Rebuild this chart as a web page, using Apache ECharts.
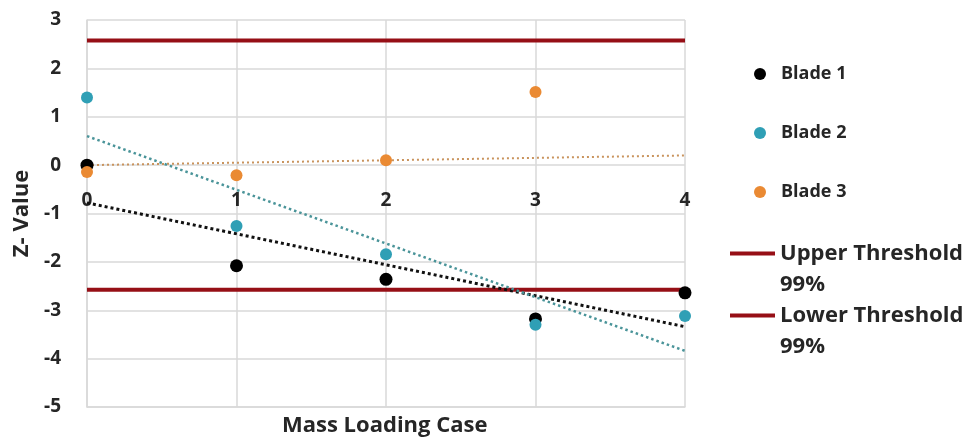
<!DOCTYPE html>
<html><head><meta charset="utf-8">
<script src="https://cdn.jsdelivr.net/npm/echarts@6/dist/echarts.min.js"></script>
<style>html,body{margin:0;padding:0;background:#fff}#c{width:969px;height:445px}</style>
</head><body><div id="c"></div>
<script>
const cases = [0, 1, 2, 3, 4];
const blade1 = [0.0, -2.08, -2.36, -3.18, -2.64];
const blade2 = [1.40, -1.26, -1.84, -3.30, -3.12];
const blade3 = [-0.14, -0.21, 0.10, 1.51, null];
// trend line endpoints (x = 0 and x = 4)
const trendX = [0, 4];
const trend1 = [-0.78, -3.34];
const trend2 = [0.60, -3.84];
const trend3 = [0.00, 0.20];
const upperThreshold = 2.576;
const lowerThreshold = -2.576;

const FONT = 'Open Sans';
const pairs = (xs, ys) => xs.map((x, i) => [x, ys[i]]).filter(p => p[1] !== null);
const lineIcon = 'path://M0,13.5h45v4h-45zM0,0h0.01v0.01h-0.01zM0,61.99h0.01v0.01h-0.01z';
const UP = 'Upper Threshold\n99%', LO = 'Lower Threshold\n99%';

const chart = echarts.init(document.getElementById('c'));
chart.setOption({
  animation: false,
  textStyle: { fontFamily: FONT },
  grid: { left: 87, right: 284, top: 20, bottom: 38 },
  xAxis: {
    type: 'value', min: 0, max: 4, interval: 1,
    axisLine: { show: true, onZero: false, lineStyle: { color: '#d9d9d9', width: 1.5 } },
    axisTick: { show: false },
    axisLabel: { margin: -216, color: '#262626', fontSize: 19, fontWeight: 'bold', fontFamily: FONT, showMinLabel: true, showMaxLabel: true },
    splitLine: { show: true, lineStyle: { color: '#d9d9d9', width: 1.5 } }
  },
  yAxis: {
    type: 'value', min: -5, max: 3, interval: 1,
    axisLine: { show: true, onZero: false, lineStyle: { color: '#d9d9d9', width: 1.5 } },
    axisTick: { show: false },
    axisLabel: { margin: 26, color: '#262626', fontSize: 19, fontWeight: 'bold', fontFamily: FONT },
    splitLine: { show: true, lineStyle: { color: '#d9d9d9', width: 1.5 } },
    name: 'Z- Value', nameLocation: 'middle', nameGap: 54, nameRotate: 90,
    nameTextStyle: { color: '#262626', fontSize: 22, fontWeight: 'bold', fontFamily: FONT }
  },
  graphic: [{
    type: 'text', left: 282, top: 415,
    style: { text: 'Mass Loading Case', fill: '#262626', font: 'bold 22px "Open Sans"' }
  }],
  legend: [{
    data: ['Blade 1', 'Blade 2', 'Blade 3'],
    orient: 'vertical', left: 749, top: 60, itemGap: 41,
    itemWidth: 12, itemHeight: 12, icon: 'circle',
    textStyle: { color: '#262626', fontSize: 18, fontWeight: 'bold', fontFamily: FONT, padding: [0, 0, 0, 10] }
  }, {
    data: [{ name: UP, icon: lineIcon }, { name: LO, icon: lineIcon }],
    orient: 'vertical', left: 725, top: 233, itemGap: 0, itemWidth: 45, itemHeight: 62,
    textStyle: { color: '#262626', fontSize: 22, fontWeight: 'bold', fontFamily: FONT, lineHeight: 31 }
  }],
  series: [
    { name: UP, type: 'line', data: pairs(trendX, [upperThreshold, upperThreshold]), symbol: 'none', color: '#960f16', lineStyle: { color: '#960f16', width: 4 }, z: 3 },
    { name: LO, type: 'line', data: pairs(trendX, [lowerThreshold, lowerThreshold]), symbol: 'none', color: '#960f16', lineStyle: { color: '#960f16', width: 4 }, z: 3 },
    { name: 'trend1', type: 'line', data: pairs(trendX, trend1), symbol: 'none', lineStyle: { color: '#111', width: 3, type: [3, 3] }, z: 4 },
    { name: 'trend2', type: 'line', data: pairs(trendX, trend2), symbol: 'none', lineStyle: { color: '#4a9499', width: 2.5, type: [2.5, 3] }, z: 4 },
    { name: 'trend3', type: 'line', data: pairs(trendX, trend3), symbol: 'none', lineStyle: { color: '#c9935c', width: 2, type: [2, 3] }, z: 4 },
    { name: 'Blade 1', type: 'scatter', data: pairs(cases, blade1), symbolSize: 13, itemStyle: { color: '#000000', opacity: 1 }, z: 6 },
    { name: 'Blade 2', type: 'scatter', data: pairs(cases, blade2), symbolSize: 12, itemStyle: { color: '#2f9fb5', opacity: 1 }, z: 6 },
    { name: 'Blade 3', type: 'scatter', data: pairs(cases, blade3), symbolSize: 12, itemStyle: { color: '#ea8a33', opacity: 1 }, z: 6 }
  ]
});
</script></body></html>
